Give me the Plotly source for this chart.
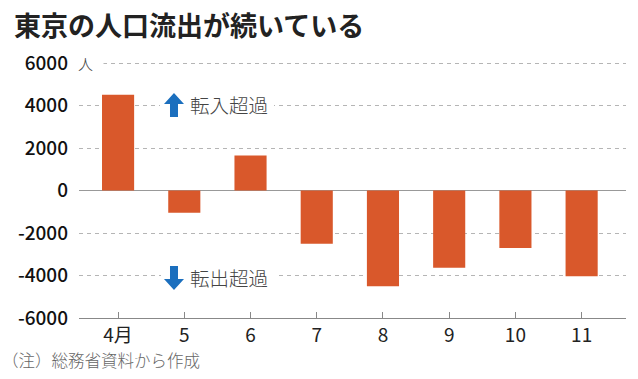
import plotly.graph_objects as go

months = ["4月", "5", "6", "7", "8", "9", "10", "11"]
net_migration = [4510, -1050, 1650, -2500, -4500, -3630, -2700, -4030]
y_ticks = [-6000, -4000, -2000, 0, 2000, 4000, 6000]
y_tick_labels = ["-6000", "-4000", "-2000", "0", "2000", "4000", "6000"]

title_text = "東京の人口流出が続いている"
unit_text = "人"
up_text = "転入超過"
down_text = "転出超過"
note_text = "（注）総務省資料から作成"

W, H = 638, 379
L, R, T, B = 79, 12, 62, 61
FONT = "Noto Sans CJK JP"
BAR = "#D9582B"
BLUE = "#1B6FBE"
Y_TOP = 6050  # a touch above 6000 so the top gridline is drawn


def px(x, y):
    return (x - L) / (W - L - R), (H - B - y) / (H - T - B)


fig = go.Figure()
fig.add_trace(go.Bar(x=months, y=net_migration, marker=dict(color=BAR, line=dict(width=0)),
                     width=0.485, hoverinfo="skip"))

shapes = []
for (x0, x1, yc) in [(160, 274, 104), (161, 276, 276)]:
    a0, b0 = px(x0, yc - 7)
    a1, b1 = px(x1, yc + 7)
    shapes.append(dict(type="rect", xref="paper", yref="paper", x0=a0, x1=a1, y0=b1, y1=b0,
                       fillcolor="white", line=dict(width=0), layer="above"))


def arrow(cx, tip, base, up=True):
    hw, sw, hh = 10, 4, 11
    s = 1 if up else -1
    pts = [(cx, tip), (cx + hw, tip + s * hh), (cx + sw, tip + s * hh), (cx + sw, base),
           (cx - sw, base), (cx - sw, tip + s * hh), (cx - hw, tip + s * hh)]
    path = "M " + " L ".join(f"{px(x, y)[0]:.5f},{px(x, y)[1]:.5f}" for x, y in pts) + " Z"
    return dict(type="path", xref="paper", yref="paper", path=path, fillcolor=BLUE,
                line=dict(width=0), layer="above")


shapes.append(arrow(174, 93, 117, True))
shapes.append(arrow(174, 290, 266, False))

annotations = []
tx, ty = px(12, 24)
annotations.append(dict(text=f"<b>{title_text}</b>", xref="paper", yref="paper", x=tx, y=ty,
                        xanchor="left", yanchor="middle", showarrow=False,
                        font=dict(family=FONT, size=27, color="#222")))
ux, uy = px(76, 63)
annotations.append(dict(text=unit_text, xref="paper", yref="paper", x=ux, y=uy, xanchor="left",
                        yanchor="middle", showarrow=False, bgcolor="white", width=24, align="left",
                        font=dict(family=FONT, size=15, color="#444", weight=300)))
for t, yc in [(up_text, 104), (down_text, 277)]:
    ax_, ay_ = px(188, yc)
    annotations.append(dict(text=t, xref="paper", yref="paper", x=ax_, y=ay_, xanchor="left",
                            yanchor="middle", showarrow=False,
                            font=dict(family=FONT, size=19.5, color="#444", weight=300)))
nx, ny = px(0, 360)
annotations.append(dict(text=note_text, xref="paper", yref="paper", x=nx, y=ny, xanchor="left",
                        yanchor="middle", showarrow=False,
                        font=dict(family=FONT, size=16.5, color="#666", weight=300)))

fig.update_layout(
    width=W, height=H, margin=dict(l=L, r=R, t=T, b=B),
    paper_bgcolor="white", plot_bgcolor="white", showlegend=False,
    xaxis=dict(type="category", range=[-0.59, 7.67], showline=True, linecolor="#888", linewidth=1,
               ticks="inside", ticklen=6, tickcolor="#888", showgrid=False,
               tickfont=dict(family=FONT, size=19, color="#222", weight=400)),
    yaxis=dict(range=[-6000, Y_TOP], tickvals=y_ticks, ticktext=y_tick_labels, showline=False,
               ticks="", showgrid=True, gridcolor="#b5b5b5", gridwidth=1, griddash="4px,4px",
               zeroline=True, zerolinecolor="#999", zerolinewidth=1, ticklabelstandoff=10,
               tickfont=dict(family=FONT, size=19, color="#111", weight=500)),
    shapes=shapes, annotations=annotations,
)

fig.write_html("out.html", config={"displayModeBar": False, "staticPlot": True},
               post_script="document.body.style.margin='0';document.body.style.padding='0';"
                           "document.documentElement.style.overflow='hidden';")
